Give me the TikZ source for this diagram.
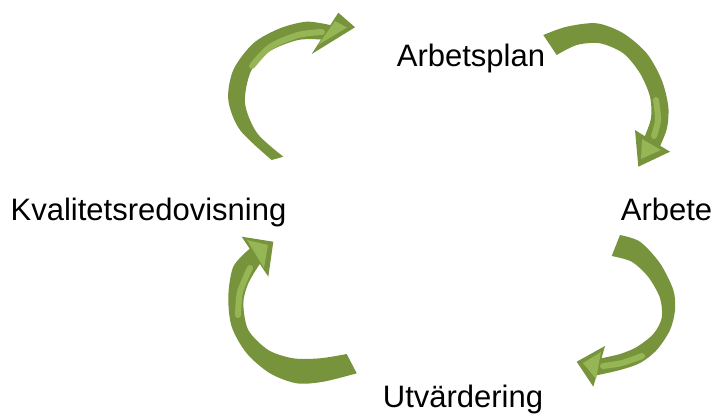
\documentclass[tikz,border=0pt]{standalone}
\usepackage{fontspec}
\setmainfont{Liberation Sans}
\definecolor{olivedark}{HTML}{77933C}
\definecolor{olivelight}{HTML}{9BBB59}
\begin{document}
\begin{tikzpicture}[x=1pt,y=-1pt,
  lbl/.style={anchor=base,inner sep=0pt,font=\fontsize{31}{37}\selectfont},
  arrowbody/.style={fill=olivedark},
  shine/.style={draw=olivelight!85!olivedark,line width=6pt,line cap=round},
  shinehead/.style={fill=olivelight!85!olivedark}]
\useasboundingbox (0,0) rectangle (719,416);
\fill[white] (0,0) rectangle (719,416);

% labels
\node[lbl] (arbetsplan) at (471,66) {Arbetsplan};
\node[lbl] (arbete) at (666.5,220) {Arbete};
\node[lbl] (utv) at (463,407) {Utvärdering};
\node[lbl] (kval) at (148.5,220) {Kvalitetsredovisning};

% top-left arrow (Kvalitetsredovisning -> Arbetsplan)
\fill[arrowbody] plot[smooth] coordinates {(271.7,160) (240,130) (228.3,100) (233.3,70) (253.3,43.3) (280,28.3) (306.7,21.7) (330.3,25.1)}
  -- (338.3,12.7) -- (355,27.3) -- (311.7,54) -- (321,39.5)
  -- plot[smooth] coordinates {(321,39.5) (298,40) (270,51) (251,71) (245,103) (257,133) (283.3,156.7)} -- cycle;
\draw[shine] plot[smooth] coordinates {(252,66) (270,47) (298,35) (322,32)};
\fill[shinehead] (335,21) -- (347,27.5) -- (318,45) -- cycle;

% top-right arrow (Arbetsplan -> Arbete)
\fill[arrowbody] plot[smooth] coordinates {(543.3,35) (566.7,26.7) (596.7,23.3) (623.3,33.3) (646.7,53.3) (661.7,80) (668.3,106.7) (667,128) (660.2,145.8)}
  -- (670,151.7) -- (638.3,166.7) -- (635,130) -- (644.8,136.2)
  -- plot[smooth] coordinates {(644.8,136.2) (651,118) (650,96.7) (640,73.3) (623.3,53.3) (600,43.3) (576.7,45) (556.7,55)} -- cycle;
\draw[shine] plot[smooth] coordinates {(656,100) (658,120) (654,136)};
\fill[shinehead] (642,139) -- (661,150) -- (641,159) -- cycle;

% bottom-right arrow (Arbete -> Utvärdering)
\fill[arrowbody] plot[smooth] coordinates {(620,235) (640,241.7) (660,263.3) (673.3,290) (675,310) (670,330) (656.7,350) (640,363) (620,370) (596.6,375.3)}
  -- (593.3,386.7) -- (576.7,361.7) -- (605,346) -- (601.5,358.2)
  -- plot[smooth] coordinates {(601.5,358.2) (620,354) (636.7,347) (653.3,334) (661.7,318) (660,298) (648.3,277) (631.7,261.7) (611.7,256)} -- cycle;
\draw[shine] plot[smooth] coordinates {(642,356) (622,363) (603,366)};
\fill[shinehead] (601,352) -- (596,379) -- (583,363) -- cycle;

% bottom-left arrow (Utvärdering -> Kvalitetsredovisning)
\fill[arrowbody] (249.7,248.7) -- (241.7,236.7) -- (273.3,241.7) -- (268.3,276.7) -- (259.8,263.9)
  -- plot[smooth] coordinates {(259.8,263.9) (248.3,283.3) (243.3,303.3) (248.3,330) (268.3,350) (293.3,358.3) (320,358.3) (346.7,354)}
  -- plot[smooth] coordinates {(356.7,373.3) (323.3,381.7) (296.7,383.3) (270,373.3) (246.7,353.3) (231.7,326.7) (228.3,296.7) (233.3,266.7) (249.7,248.7)} -- cycle;
\draw[shine] plot[smooth] coordinates {(238,315) (240,292) (250,268)};
\fill[shinehead] (247,240) -- (268,245) -- (264,268) -- cycle;
\end{tikzpicture}
\end{document}
